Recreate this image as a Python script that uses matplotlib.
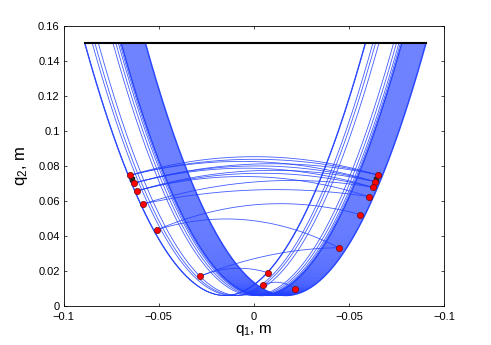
import numpy as np
import matplotlib
matplotlib.use("Agg")
import matplotlib.pyplot as plt

plt.rcParams['font.family'] = ['Liberation Sans', 'DejaVu Sans']
plt.rcParams['mathtext.default'] = 'regular'

# centres of the U-shaped trajectories (same shape, shifted in q1)
sparse_c = [-0.0153, -0.0151, -0.0150, -0.0112, -0.0098, -0.0080,
            -0.0003, 0.0012, 0.0025, 0.0033]
dense_c = [0.0040, 0.0041, 0.0044, 0.0047, 0.0050, 0.0053, 0.0056, 0.0059,
           0.0062, 0.0065, 0.0068, 0.0071, 0.0074, 0.0077, 0.0080, 0.0083,
           0.0086, 0.0089, 0.0092, 0.0095, 0.0098, 0.0101, 0.0104, 0.0107,
           0.0110, 0.0113, 0.0116, 0.0119, 0.0122, 0.0125, 0.0128, 0.0131,
           0.0134, 0.0137, 0.0140, 0.0143, 0.0146, 0.0149, 0.0152, 0.0155,
           0.0158, 0.0161, 0.0164, 0.0166, 0.0168]
u_bottom = 0.006      # lowest q2 of each U
u_top = 0.15          # start height
u_halfwidth = 0.0738  # half width of a U at start height

# switching points
left_x = [-0.0651, -0.0633, -0.0616, -0.0583, -0.0509, -0.0284]
left_y = [0.0747, 0.0701, 0.0657, 0.0583, 0.0436, 0.0170]
right_x = [0.0651, 0.0637, 0.0625, 0.0605, 0.0561, 0.0447, 0.0219, 0.0075, 0.0046]
right_y = [0.0749, 0.0710, 0.0678, 0.0625, 0.0522, 0.0333, 0.0097, 0.0190, 0.0118]
black_x = [-0.0640, 0.0642]
black_y = [0.0726, 0.0726]

# arcs between switching points (start, end, height at the middle)
arc_x0 = [-0.0651, -0.0651, -0.0651, -0.0633, -0.0633, -0.0633, -0.0616, -0.0616,
          -0.0616, -0.0583, -0.0583, -0.0509, -0.0509, -0.0284, -0.0284, 0.0046]
arc_y0 = [0.0747, 0.0747, 0.0747, 0.0701, 0.0701, 0.0701, 0.0657, 0.0657,
          0.0657, 0.0583, 0.0583, 0.0436, 0.0436, 0.0170, 0.0170, 0.0118]
arc_x1 = [0.0651, 0.0651, 0.0637, 0.0651, 0.0637, 0.0625, 0.0637, 0.0625,
          0.0605, 0.0625, 0.0605, 0.0561, 0.0447, 0.0447, 0.0075, 0.0219]
arc_y1 = [0.0749, 0.0749, 0.0710, 0.0749, 0.0710, 0.0678, 0.0710, 0.0678,
          0.0625, 0.0678, 0.0625, 0.0522, 0.0333, 0.0333, 0.0190, 0.0097]
arc_mid = [0.0853, 0.0838, 0.0825, 0.0811, 0.0800, 0.0787, 0.0773, 0.0758,
           0.0739, 0.0710, 0.0663, 0.0580, 0.0491, 0.0290, 0.0215, 0.0135]

blue = (0.13, 0.25, 1.0)

fig = plt.figure(figsize=(4.91, 3.45), dpi=100)
ax = fig.add_axes([0.130, 0.113, 0.774, 0.812])

curv = (u_top - u_bottom) / u_halfwidth ** 2
for c in sparse_c:
    x = np.linspace(c - u_halfwidth, c + u_halfwidth, 300)
    y = u_bottom + curv * (x - c) ** 2
    ax.plot(x, y, color=blue, lw=0.6, alpha=0.85)
for i, c in enumerate(dense_c):
    x = np.linspace(c - u_halfwidth, c + u_halfwidth, 300)
    y = u_bottom + curv * (x - c) ** 2
    edge = i in (0, len(dense_c) - 1)
    ax.plot(x, y, color=blue, lw=1.0 if edge else 0.45,
            alpha=0.95 if edge else 0.72)

t = np.linspace(0, 1, 200)
for x0, y0, x1, y1, ym in zip(arc_x0, arc_y0, arc_x1, arc_y1, arc_mid):
    b = ym - (y0 + y1) / 2
    ax.plot(x0 + (x1 - x0) * t, y0 + (y1 - y0) * t + 4 * b * t * (1 - t),
            color=blue, lw=0.6, alpha=0.85)

all_c = sparse_c + dense_c
ax.plot([min(all_c) - u_halfwidth, max(all_c) + u_halfwidth], [u_top, u_top],
        color='black', lw=1.5)

ax.plot(black_x, black_y, 's', color='#222222', ms=3)
ax.plot(left_x, left_y, 'o', mfc='red', mec='#661010', mew=0.5, ms=4.5)
ax.plot(right_x, right_y, 'o', mfc='red', mec='#661010', mew=0.5, ms=4.5)

ax.set_xlim(-0.1, 0.1)
ax.set_ylim(0, 0.16)
ax.set_xticks([-0.1, -0.05, 0, 0.05, 0.1])
ax.set_xticklabels(['\u22120.1', '\u22120.05', '0', '\u22120.05', '\u22120.1'])
ax.set_yticks([0, 0.02, 0.04, 0.06, 0.08, 0.1, 0.12, 0.14, 0.16])
ax.set_yticklabels(['0', '0.02', '0.04', '0.06', '0.08', '0.1', '0.12', '0.14', '0.16'])
ax.tick_params(direction='in', length=2.5, width=0.5, labelsize=8,
               top=True, right=True)
ax.tick_params(axis='x', pad=4)
ax.tick_params(axis='y', pad=3)
for s in ax.spines.values():
    s.set_linewidth(0.6)

ax.set_xlabel('q$_1$, m', fontsize=11, labelpad=1)
ax.set_ylabel('q$_2$, m', fontsize=12, labelpad=6)

fig.savefig('out.png', dpi=100)
